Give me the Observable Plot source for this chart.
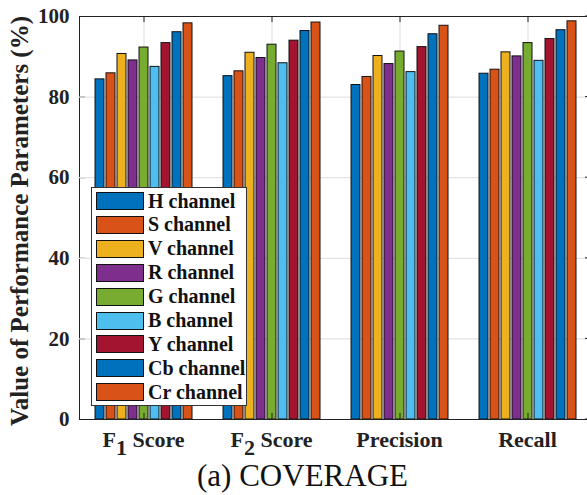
<!DOCTYPE html>
<html><head><meta charset="utf-8">
<script src="https://cdn.jsdelivr.net/npm/d3@7"></script>
<script src="https://cdn.jsdelivr.net/npm/@observablehq/plot@0.6"></script>
<style>
body{margin:0;background:#fff;}
#wrap{position:relative;width:587px;height:495px;overflow:hidden;font-family:"Liberation Serif","Times New Roman",serif;}
#chart svg, #chart svg text, #chart svg tspan{font-family:"Liberation Serif","Times New Roman",serif !important;}
#legend{position:absolute;left:91px;top:187px;width:156px;height:219px;background:#fff;border:1px solid #333;box-sizing:border-box;}
.item{position:absolute;left:4px;height:18px;display:flex;align-items:center;}
.sw{width:46px;height:16px;border:1px solid #111;margin-right:4px;}
.lab{font-weight:bold;font-size:20px;color:#111;white-space:nowrap;}
#caption{position:absolute;left:0;top:462px;width:605px;text-align:center;font-size:31px;line-height:28px;color:#111;}
</style></head>
<body><div id="wrap"><div id="chart"></div><div id="legend"></div><div id="caption">(a) COVERAGE</div></div>
<script>
const groups = ["F1 Score", "F2 Score", "Precision", "Recall"];
const channels = ["H channel", "S channel", "V channel", "R channel", "G channel", "B channel", "Y channel", "Cb channel", "Cr channel"];
const colors = ["#0072BD", "#D95319", "#EDB120", "#7E2F8E", "#77AC30", "#4DBEEE", "#A2142F", "#0072BD", "#D95319"];
const f1Score = [84.4, 85.9, 90.7, 89.1, 92.3, 87.5, 93.4, 96.1, 98.3];
const f2Score = [85.2, 86.4, 91.0, 89.7, 93.0, 88.4, 94.0, 96.4, 98.5];
const precision = [83.0, 85.0, 90.2, 88.2, 91.3, 86.2, 92.4, 95.6, 97.7];
const recall = [85.8, 86.8, 91.1, 90.1, 93.4, 89.0, 94.4, 96.6, 98.8];
const yTicks = [0, 20, 40, 60, 80, 100];
const yLabel = "Value of Performance Parameters (%)";

const series = [f1Score, f2Score, precision, recall];
const rows = groups.flatMap((g, i) => channels.map((c, j) => ({group: g, channel: c, value: series[i][j]})));

const chart = Plot.plot({
  width: 587, height: 460,
  marginLeft: 78, marginRight: -5, marginTop: 16, marginBottom: 41,
  style: {fontFamily: "'Liberation Serif', 'Times New Roman', serif", fontSize: "21px", fontWeight: "bold", color: "#222", background: "transparent"},
  fx: {domain: groups, padding: 0, label: null, tickSize: 0, tickPadding: 12},
  x: {domain: channels, axis: null, paddingInner: 0.2, paddingOuter: 1.15},
  y: {domain: [0, 100], ticks: yTicks, tickSize: -6, tickPadding: 16, line: true, label: null},
  color: {domain: channels, range: colors},
  marks: [
    Plot.ruleY(yTicks.filter(d => d > 0 && d < 100), {stroke: "#e3e3e3", strokeWidth: 1.2}),
    Plot.ruleX(["G channel"], {stroke: "#e3e3e3", strokeWidth: 1.2}),
    Plot.barY(rows, {fx: "group", x: "channel", y: "value", fill: "channel", stroke: "#111", strokeWidth: 1}),
    Plot.ruleY([0, 100], {stroke: "#222", strokeWidth: 1.2}),
    Plot.ruleX(["G channel"], {y1: 100, y2: 98.5, stroke: "#222"}),
    Plot.ruleX(["G channel"], {y1: 0, y2: 1.5, stroke: "#222"})
  ]
});
document.getElementById("chart").appendChild(chart);

const ns = "http://www.w3.org/2000/svg";
chart.querySelectorAll("text").forEach(t => {
  const m = /^F([12]) Score$/.exec(t.textContent);
  if (!m) { return; }
  t.setAttribute("font-size", "22px");
  t.textContent = "";
  const a = document.createElementNS(ns, "tspan"); a.textContent = "F"; t.appendChild(a);
  const b = document.createElementNS(ns, "tspan"); b.textContent = m[1]; b.setAttribute("dy", "0.34em"); t.appendChild(b);
  const c = document.createElementNS(ns, "tspan"); c.textContent = " Score"; c.setAttribute("dy", "-0.34em"); t.appendChild(c);
});
chart.querySelectorAll("text").forEach(t => {
  if (t.textContent === "Precision" || t.textContent === "Recall") t.setAttribute("font-size", "22px");
});

// y-axis title
const yt = document.createElementNS(ns, "text");
yt.textContent = yLabel;
yt.setAttribute("transform", "translate(19,221) rotate(-90)");
yt.setAttribute("text-anchor", "middle");
yt.setAttribute("dominant-baseline", "central");
yt.setAttribute("font-size", "25px");
yt.setAttribute("font-weight", "bold");
yt.setAttribute("fill", "#222");
chart.appendChild(yt);

// inward ticks on the right edge of the box, placed with the chart's own y scale
const ys = chart.scale("y");
yTicks.forEach(v => {
  const ln = document.createElementNS(ns, "line");
  const py = ys.apply(v);
  ln.setAttribute("x1", 592); ln.setAttribute("x2", 585);
  ln.setAttribute("y1", py); ln.setAttribute("y2", py);
  ln.setAttribute("stroke", "#222");
  chart.appendChild(ln);
});

const leg = document.getElementById("legend");
channels.forEach((c, i) => {
  const it = document.createElement("div");
  it.className = "item";
  it.style.top = (4 + i * 23.9) + "px";
  it.innerHTML = `<div class="sw" style="background:${colors[i]}"></div><div class="lab">${c}</div>`;
  leg.appendChild(it);
});
</script>
</body></html>
